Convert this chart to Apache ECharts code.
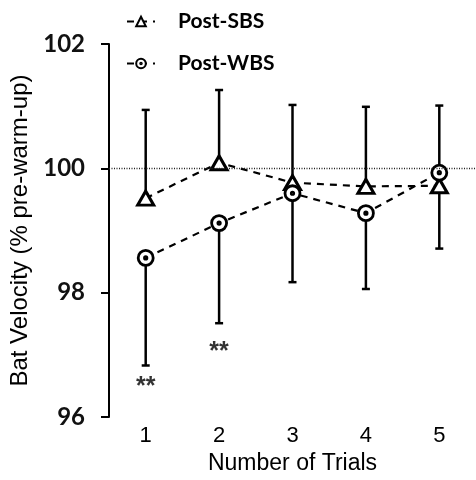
<!DOCTYPE html>
<html>
<head>
<meta charset="utf-8">
<script src="https://cdn.jsdelivr.net/npm/echarts@6/dist/echarts.min.js"></script>
<style>html,body{margin:0;padding:0;background:#fff}#c{width:476px;height:480px}</style>
</head>
<body>
<div id="c"></div>
<script>
var trials = ['1', '2', '3', '4', '5'];
var yTicks = [96, 98, 100, 102];
var sbsMean = [99.52, 100.09, 99.77, 99.71, 99.72];
var sbsUpper = [100.94, 101.26, 101.02, 100.99, 101.01];
var wbsMean = [98.56, 99.12, 99.60, 99.28, 99.93];
var wbsLower = [96.83, 97.51, 98.17, 98.06, 98.71];
var sigTrials = ['1', '2'];
var sigPos = [96.57, 97.13];
var sigText = '**';
var refValue = 100;

var chart = echarts.init(document.getElementById('c'));
var ringPath = 'path://M10,0 A10,10 0 1,1 10,20 A10,10 0 1,1 10,0 Z M10,8.4 A1.6,1.6 0 1,1 10,11.6 A1.6,1.6 0 1,1 10,8.4 Z';

function errItem(params, api) {
  var x = api.value(0), a = api.value(1), b = api.value(2);
  var p1 = api.coord([x, a]), p2 = api.coord([x, b]);
  var cap = 4;
  var st = {stroke: '#000', lineWidth: 2.5};
  return {type: 'group', children: [
    {type: 'line', shape: {x1: p1[0], y1: p1[1], x2: p2[0], y2: p2[1]}, style: st},
    {type: 'line', shape: {x1: p2[0] - cap, y1: p2[1], x2: p2[0] + cap, y2: p2[1]}, style: st}
  ]};
}

var sbsErr = trials.map(function (t, i) { return [i, sbsMean[i], sbsUpper[i]]; });
var wbsErr = trials.map(function (t, i) { return [i, wbsMean[i], wbsLower[i]]; });

chart.setOption({
  animation: false,
  grid: {left: 108, right: -2, top: 44, bottom: 56},
  legend: {
    orient: 'vertical', left: 121, top: 6, itemGap: 21,
    itemWidth: 28, itemHeight: 12,
    data: ['Post-SBS', 'Post-WBS'],
    textStyle: {fontFamily: 'Lato', fontWeight: 'bold', fontSize: 21, color: '#000', padding: [0, 0, 0, 18]}
  },
  xAxis: {
    type: 'category', data: trials, boundaryGap: true,
    axisLine: {show: false}, axisTick: {show: false},
    axisLabel: {fontFamily: 'Liberation Sans', fontSize: 22, color: '#000', margin: 8},
    name: 'Number of Trials', nameLocation: 'middle', nameGap: 30,
    nameTextStyle: {fontFamily: 'Liberation Sans', fontSize: 23, color: '#000'}
  },
  yAxis: {
    type: 'value', min: yTicks[0], max: yTicks[yTicks.length - 1], interval: 2,
    axisLine: {show: true, lineStyle: {color: '#000', width: 2}},
    axisTick: {show: true, length: 8, lineStyle: {color: '#000', width: 2}},
    splitLine: {show: false},
    axisLabel: {fontFamily: 'Lato', fontWeight: 'bold', fontSize: 24, color: '#111', margin: 24},
    name: 'Bat Velocity (% pre-warm-up)', nameLocation: 'middle', nameGap: 77,
    nameTextStyle: {fontFamily: 'Liberation Sans', fontSize: 24, color: '#000'}
  },
  series: [
    {
      type: 'custom', renderItem: errItem, data: sbsErr, z: 1, silent: true,
      encode: {x: 0, y: [1, 2]}
    },
    {
      type: 'custom', renderItem: errItem, data: wbsErr, z: 1, silent: true,
      encode: {x: 0, y: [1, 2]}
    },
    {
      name: 'Post-SBS', type: 'line', data: sbsMean, z: 3,
      symbol: 'triangle', symbolSize: [16, 14],
      lineStyle: {color: '#000', width: 2.2, type: [7, 6]},
      itemStyle: {color: '#fff', borderColor: '#000', borderWidth: 3},
      markLine: {
        silent: true, symbol: 'none', label: {show: false},
        lineStyle: {color: '#222', width: 1.3, type: [1, 1.5]},
        data: [{yAxis: refValue}]
      }
    },
    {
      name: 'Post-WBS', type: 'line', data: wbsMean, z: 3,
      symbol: ringPath, symbolSize: 15, symbolKeepAspect: true,
      lineStyle: {color: '#000', width: 2.2, type: [7, 6]},
      itemStyle: {color: '#fff', borderColor: '#000', borderWidth: 2.8}
    },
    {
      type: 'scatter', data: sigTrials.map(function (t, i) { return [t, sigPos[i]]; }),
      symbolSize: 0, silent: true,
      label: {show: true, position: 'inside', offset: [0, 5], formatter: sigText, fontFamily: 'Liberation Sans', fontWeight: 'bold', fontSize: 25, color: '#000'}
    }
  ]
});
</script>
</body>
</html>
